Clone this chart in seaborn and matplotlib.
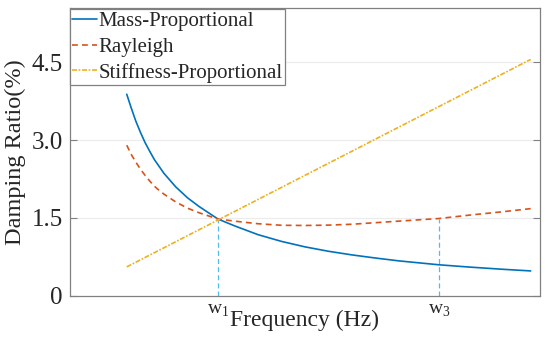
import matplotlib
matplotlib.use("Agg")
import matplotlib.pyplot as plt
import seaborn as sns
import pandas as pd

# values (x in arbitrary frequency units)
freq = [1.21, 1.3, 1.4, 1.5, 1.6, 1.7, 1.8, 1.9, 2.0, 2.25, 2.5, 2.75,
        3.15, 3.5, 4.0, 4.5, 5.0, 5.5, 6.0, 6.5, 7.0, 7.85, 8.5, 9.2, 9.8]
mass_prop = [3.88, 3.63, 3.37, 3.15, 2.95, 2.78, 2.62, 2.49, 2.36, 2.10,
             1.89, 1.72, 1.48, 1.35, 1.18, 1.05, 0.945, 0.86, 0.79, 0.73,
             0.675, 0.60, 0.556, 0.514, 0.482]
rayleigh = [2.90, 2.73, 2.58, 2.44, 2.32, 2.21, 2.11, 2.03, 1.96, 1.81,
            1.69, 1.60, 1.48, 1.44, 1.39, 1.36, 1.356, 1.363, 1.38, 1.41,
            1.44, 1.49, 1.556, 1.62, 1.68]
stiff_freq = [1.21, 9.8]
stiff_prop = [0.56, 4.55]
w_freq = [3.15, 7.85]
w_ratio = [1.47, 1.49]
w_labels = [r"$\mathrm{w}_1$", r"$\mathrm{w}_3$"]
y_ticks = [0, 1.5, 3.0, 4.5]
y_tick_labels = ["0", "1.5", "3.0", "4.5"]

sns.set_style("ticks")
plt.rcParams["font.family"] = ["Liberation Serif", "DejaVu Serif"]
plt.rcParams["mathtext.fontset"] = "custom"
plt.rcParams["mathtext.rm"] = "Liberation Serif"

df = pd.DataFrame({"freq": freq, "mass": mass_prop, "rayleigh": rayleigh})
df_k = pd.DataFrame({"freq": stiff_freq, "stiff": stiff_prop})

fig = plt.figure(figsize=(5.5, 3.53), dpi=100)
ax = fig.add_axes([0.127, 0.1615, 0.855, 0.816])

for yv in y_ticks[1:]:
    ax.axhline(yv, color="#ebebeb", lw=0.8, zorder=0)

sns.lineplot(data=df, x="freq", y="mass", ax=ax, color="#0072BD", lw=1.2,
             label="Mass-Proportional")
sns.lineplot(data=df, x="freq", y="rayleigh", ax=ax, color="#D95319", lw=1.2,
             linestyle=(0, (3.5, 2.5)), label="Rayleigh")
sns.lineplot(data=df_k, x="freq", y="stiff", ax=ax, color="#EDB120", lw=1.2,
             linestyle=(0, (3, 1, 1, 1)), label="Stiffness-Proportional")

for xv, yv in zip(w_freq, w_ratio):
    ax.plot([xv, xv], [0, yv], color="#4DBEEE", lw=0.9,
            linestyle=(0, (4, 2.5)), zorder=1)

ax.set_xlim(0, 10)
ax.set_ylim(0, 5.54)
ax.set_yticks(y_ticks)
ax.set_yticklabels(y_tick_labels)
ax.set_xticks(w_freq)
ax.set_xticklabels(w_labels, fontsize=14)
ax.tick_params(axis="x", length=0, pad=4)
ax.tick_params(axis="y", direction="in", right=True, length=5, pad=5,
               labelsize=18, colors="#808080", labelcolor="#262626")
ax.set_xlabel("Frequency (Hz)", fontsize=17, labelpad=-6, color="#262626")
ax.set_ylabel("Damping Ratio(%)", fontsize=17.5, labelpad=4, color="#262626")
for s in ax.spines.values():
    s.set_visible(True)
    s.set_color("#808080")
    s.set_linewidth(0.9)

leg = ax.legend(loc="upper left", bbox_to_anchor=(0, 0.995), borderaxespad=0,
                fontsize=15, handlelength=1.2, handletextpad=0.05,
                borderpad=0.12, labelspacing=0.28, fancybox=False,
                framealpha=1)
leg.get_frame().set_edgecolor("#808080")
leg.get_frame().set_linewidth(0.9)

fig.savefig("out.png", dpi=100)
